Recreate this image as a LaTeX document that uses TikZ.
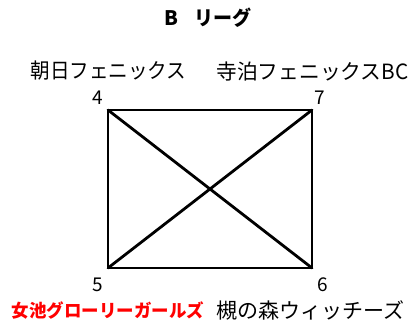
\documentclass[tikz,border=0pt]{standalone}
\usepackage{graphicx}
\usepackage{fontspec}
\setmainfont{Noto Sans CJK JP}
\newcommand{\fitw}[2]{\resizebox{#1}{\height}{#2}}
\begin{document}
\begin{tikzpicture}[x=1pt,y=-1pt,
  lbl/.style={font=\fontsize{21}{22}\selectfont, inner sep=0pt},
  redlbl/.style={font=\bfseries\fontsize{18}{20}\selectfont, text=red, inner sep=0pt},
  num/.style={font=\fontsize{19}{20}\selectfont, inner sep=0pt},
  edge/.style={line width=2.8pt, line cap=round}]
\useasboundingbox (0,0) rectangle (412,326);
\node[font=\bfseries\fontsize{20}{22}\selectfont, inner sep=0pt, anchor=west] (title) at (164,18) {B\hspace{16pt}\fitw{57pt}{リーグ}};
\coordinate (t4) at (108,110);
\coordinate (t7) at (312,110);
\coordinate (t5) at (108,268);
\coordinate (t6) at (312,268);
\draw[edge, line join=miter] (t4) -- (t7) -- (t6) -- (t5) -- cycle;
\draw[edge] (t4) -- (t6);
\draw[edge] (t7) -- (t5);
\node[num] (n4) at (97.5,98) {4};
\node[num] (n7) at (319.5,98) {7};
\node[num] (n5) at (98,285) {5};
\node[num] (n6) at (323,285) {6};
\node[lbl] (a) at (108.5,70.5) {\fitw{156pt}{朝日フェニックス}};
\node[lbl] (b) at (312.5,71) {\fitw{192pt}{寺泊フェニックスBC}};
\node[redlbl] (c) at (108,310) {\fitw{192pt}{女池グローリーガールズ}};
\node[lbl] (d) at (310.5,310) {\fitw{188pt}{槻の森ウィッチーズ}};
\end{tikzpicture}
\end{document}
